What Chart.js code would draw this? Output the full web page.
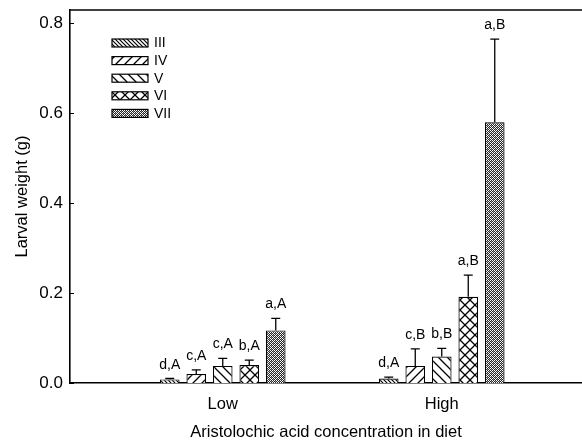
<!DOCTYPE html>
<html>
<head>
<meta charset="utf-8">
<script src="https://cdn.jsdelivr.net/npm/chart.js@4"></script>
<style>
  html, body { margin: 0; padding: 0; background: white; }
</style>
</head>
<body>
<canvas id="myChart" width="582" height="443"></canvas>
<script>
// data
const categories = ['Low', 'High'];
const stages = ['III', 'IV', 'V', 'VI', 'VII'];
const weightLow = [0.008, 0.020, 0.038, 0.040, 0.117];
const weightHigh = [0.010, 0.038, 0.059, 0.192, 0.580];
const errLow = [0.002, 0.009, 0.017, 0.011, 0.027];
const errHigh = [0.003, 0.038, 0.018, 0.048, 0.185];
const lettersLow = ['d,A', 'c,A', 'c,A', 'b,A', 'a,A'];
const lettersHigh = ['d,A', 'c,B', 'b,B', 'a,B', 'a,B'];
const yTicks = [0, 0.2, 0.4, 0.6, 0.8];

const FONT = "'Liberation Sans', Arial, sans-serif";

function makePattern(kind) {
  const c = document.createElement('canvas');
  const g = c.getContext('2d');
  let s = 9;
  if (kind === 'dense') s = 4;
  if (kind === 'dots') s = 4;
  if (kind === 'cross') s = 10;
  c.width = s; c.height = s;
  g.fillStyle = 'white';
  g.fillRect(0, 0, s, s);
  g.strokeStyle = 'black';
  g.lineWidth = kind === 'dense' ? 1.2 : 1.3;
  const back = () => {
    g.beginPath();
    g.moveTo(-1, -1); g.lineTo(s + 1, s + 1);
    g.moveTo(-1, s - 1); g.lineTo(1, s + 1);
    g.moveTo(s - 1, -1); g.lineTo(s + 1, 1);
    g.stroke();
  };
  const fwd = () => {
    g.beginPath();
    g.moveTo(-1, s + 1); g.lineTo(s + 1, -1);
    g.moveTo(-1, 1); g.lineTo(1, -1);
    g.moveTo(s - 1, s + 1); g.lineTo(s + 1, s - 1);
    g.stroke();
  };
  if (kind === 'dense' || kind === 'back') back();
  if (kind === 'fwd') fwd();
  if (kind === 'cross') { back(); fwd(); }
  if (kind === 'dots') {
    g.fillStyle = '#262626';
    g.fillRect(0, 0, s, s);
    g.fillStyle = 'white';
    [[0, 0], [2, 0], [1, 1], [0, 2], [2, 2], [3, 3]].forEach(p => g.fillRect(p[0], p[1], 1, 1));
    g.fillStyle = '#999';
    [[3, 1], [1, 3]].forEach(p => g.fillRect(p[0], p[1], 1, 1));
  }
  return g.createPattern(c, 'repeat');
}

const patterns = [makePattern('dense'), makePattern('fwd'), makePattern('back'), makePattern('cross'), makePattern('dots')];

const datasets = stages.map((st, i) => ({
  label: st,
  data: [
    { x: 0, y: weightLow[i] },
    { x: 1, y: weightHigh[i] }
  ],
  backgroundColor: patterns[i],
  borderColor: 'black',
  borderWidth: 1.2,
  categoryPercentage: 0.605,
  barPercentage: 0.74
}));

// error bars + significance letters
const errorBars = {
  id: 'errorBars',
  afterDatasetsDraw(chart) {
    const ctx = chart.ctx;
    const y = chart.scales.y;
    ctx.save();
    ctx.strokeStyle = 'black';
    ctx.lineWidth = 1.3;
    ctx.fillStyle = 'black';
    ctx.font = '14px ' + FONT;
    ctx.textAlign = 'center';
    ctx.textBaseline = 'alphabetic';
    chart.data.datasets.forEach((ds, i) => {
      const meta = chart.getDatasetMeta(i);
      meta.data.forEach((bar, j) => {
        const mean = j === 0 ? weightLow[i] : weightHigh[i];
        const err = j === 0 ? errLow[i] : errHigh[i];
        const top = y.getPixelForValue(mean + err);
        ctx.beginPath();
        ctx.moveTo(bar.x, bar.y);
        ctx.lineTo(bar.x, top);
        ctx.moveTo(bar.x - 4.5, top);
        ctx.lineTo(bar.x + 4.5, top);
        ctx.stroke();
        const txt = j === 0 ? lettersLow[i] : lettersHigh[i];
        ctx.fillText(txt, bar.x, top - 10);
      });
    });
    ctx.restore();
  }
};

// frame top line, inward y ticks, legend box
const frame = {
  id: 'frame',
  afterDraw(chart) {
    const ctx = chart.ctx;
    const a = chart.chartArea;
    const y = chart.scales.y;
    ctx.save();
    ctx.strokeStyle = 'black';
    ctx.lineWidth = 1.6;
    ctx.beginPath();
    ctx.moveTo(a.left, a.top);
    ctx.lineTo(a.right, a.top);
    ctx.stroke();
    ctx.lineWidth = 1;
    yTicks.forEach(v => {
      const py = Math.round(y.getPixelForValue(v)) + 0.5;
      ctx.beginPath();
      ctx.moveTo(a.left, py);
      ctx.lineTo(a.left + 4, py);
      ctx.stroke();
    });
    // legend
    ctx.font = '14px ' + FONT;
    ctx.textAlign = 'left';
    ctx.textBaseline = 'middle';
    ctx.lineWidth = 1.2;
    chart.data.datasets.forEach((ds, i) => {
      const cy = a.top + 33 + i * 17.6;
      ctx.fillStyle = ds.backgroundColor;
      ctx.fillRect(a.left + 42, cy - 4, 36, 8);
      ctx.strokeRect(a.left + 42, cy - 4, 36, 8);
      ctx.fillStyle = 'black';
      ctx.fillText(ds.label, a.left + 84, cy + 0.5);
    });
    ctx.restore();
  }
};

new Chart(document.getElementById('myChart').getContext('2d'), {
  type: 'bar',
  data: { datasets: datasets },
  options: {
    responsive: false,
    animation: false,
    layout: { padding: { top: 10, right: 0, left: 0, bottom: 0 } },
    plugins: {
      legend: { display: false },
      tooltip: { enabled: false }
    },
    scales: {
      x: {
        type: 'linear',
        offset: false,
        min: -0.6975,
        max: 1.6404,
        grid: { display: false, drawTicks: false },
        border: { display: true, color: 'black', width: 1.6 },
        afterBuildTicks: scale => { scale.ticks = categories.map((c, i) => ({ value: i })); },
        afterFit: scale => { scale.height = 60; scale.paddingLeft = 0; scale.paddingRight = 0; },
        ticks: {
          color: 'black',
          font: { family: FONT, size: 16.5 },
          padding: 12,
          maxRotation: 0,
          autoSkip: false,
          callback: v => categories[v]
        },
        title: {
          display: true,
          text: 'Aristolochic acid concentration in diet',
          color: 'black',
          font: { family: FONT, size: 16.5 },
          padding: { top: 0, bottom: 1 }
        }
      },
      y: {
        min: 0,
        max: 0.83,
        grid: { display: false, drawTicks: false },
        border: { display: true, color: 'black', width: 1.6 },
        afterBuildTicks: scale => { scale.ticks = yTicks.map(v => ({ value: v })); },
        afterFit: scale => { scale.width = 70; scale.paddingTop = 0; scale.paddingBottom = 0; },
        ticks: {
          color: 'black',
          font: { family: FONT, size: 17 },
          padding: 7,
          callback: v => v.toFixed(1)
        },
        title: {
          display: true,
          text: 'Larval weight (g)',
          color: 'black',
          font: { family: FONT, size: 16.5 },
          padding: { top: 13, bottom: 0 }
        }
      }
    }
  },
  plugins: [errorBars, frame]
});
</script>
</body>
</html>
